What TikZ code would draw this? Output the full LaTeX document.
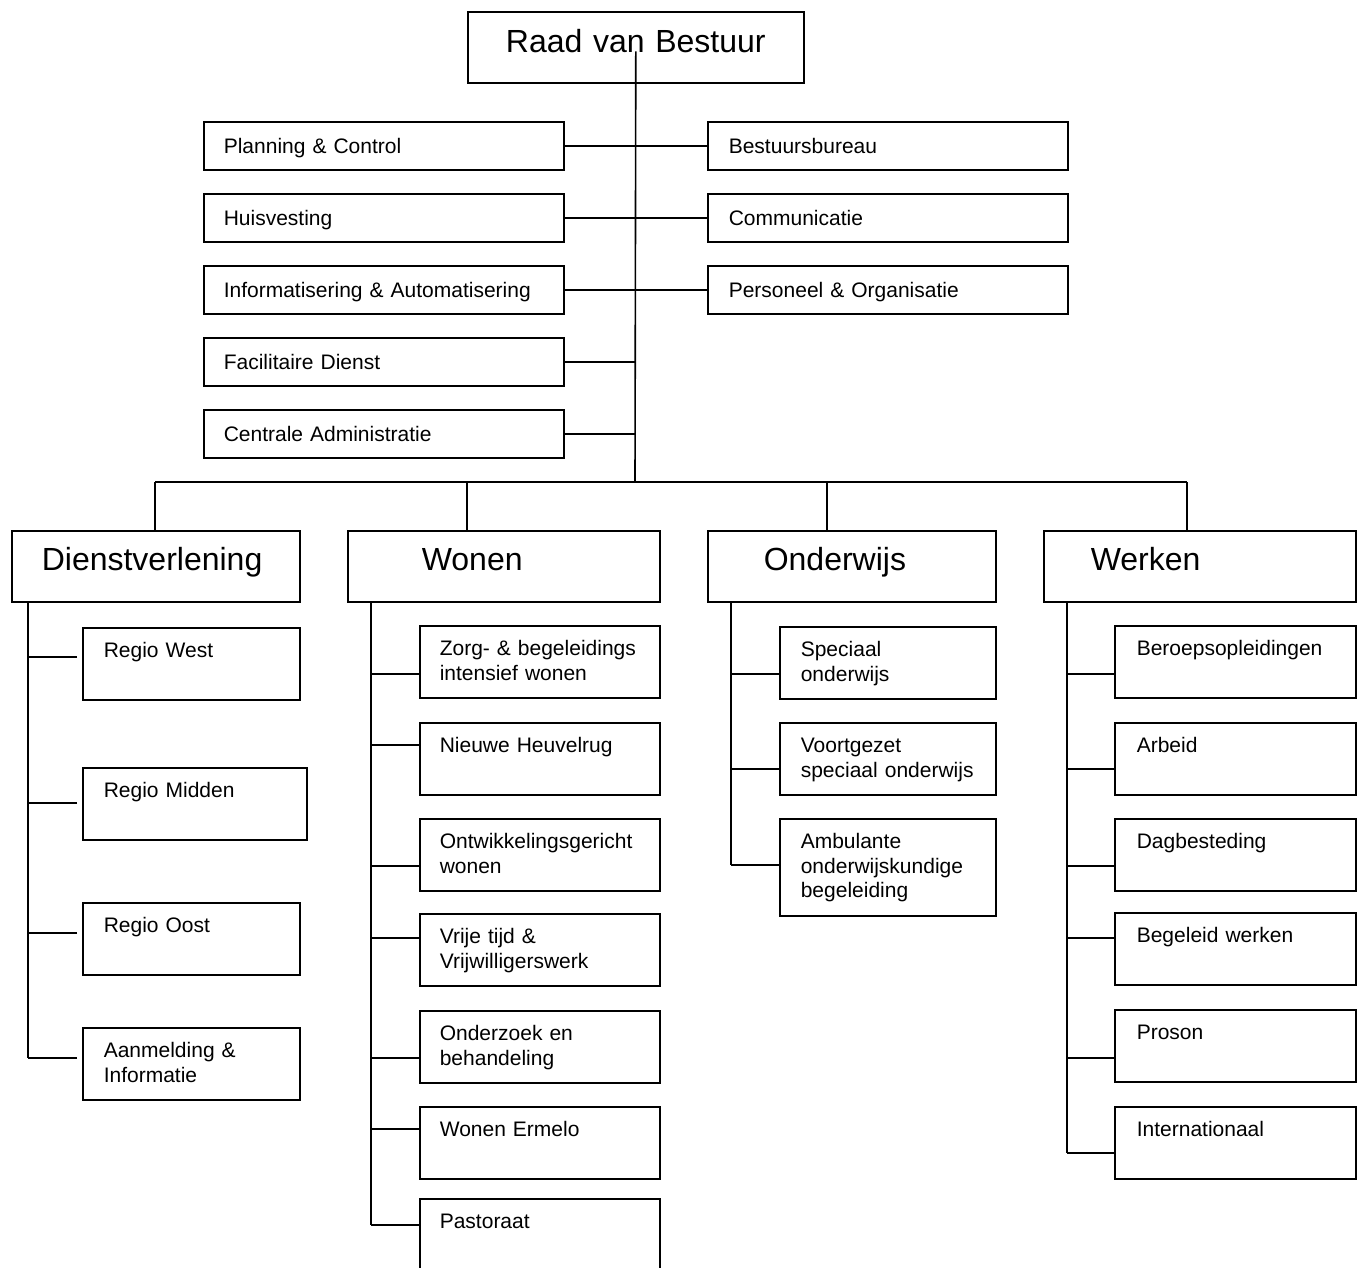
\documentclass[tikz,border=0pt]{standalone}
\usepackage{fontspec}
\setmainfont{Liberation Sans}
\usetikzlibrary{calc,positioning}
\newcommand{\orgsmall}{\fontsize{21}{24.5}\selectfont}
\newcommand{\orglarge}{\fontsize{32}{38}\selectfont}
\tikzset{
  orgbox/.style={draw, rectangle, line width=1.6pt, anchor=north west, inner ysep=0pt, inner xsep=20pt, align=left, font=\orgsmall},
  staffbox/.style={orgbox, text width=320pt, text height=32pt, text depth=16pt},
  subbox/.style={orgbox, text height=30pt, text depth=42pt},
  divbox/.style={orgbox, font=\orglarge, text height=40pt, text depth=31pt},
  link/.style={line width=1.6pt},
}
\begin{document}
\begin{tikzpicture}[x=1pt, y=-1pt]
  \useasboundingbox (0,0) rectangle (1365,1267);
  \fill[white] (0,0) rectangle (1365,1267);
  \clip (0,0) rectangle (1365,1267);

  % top of the organisation
  \node[orgbox, font=\orglarge, align=center, text width=296pt, text height=41pt, text depth=30pt] (rvb) at (467,11) {Raad van Bestuur};
  \coordinate (hub) at (635,482);
  \draw[link] ([yshift=-4pt]rvb.center) -- (hub);

  % staff departments
  \node[staffbox] (pc) at (203,121) {Planning \& Control};
  \node[staffbox] (hv) at (203,193) {Huisvesting};
  \node[staffbox] (ia) at (203,265) {Informatisering \& Automatisering};
  \node[staffbox] (fd) at (203,337) {Facilitaire Dienst};
  \node[staffbox] (ca) at (203,409) {Centrale Administratie};
  \node[staffbox, inner xsep=21pt, text width=318pt] (bb) at (707,121) {Bestuursbureau};
  \node[staffbox, inner xsep=21pt, text width=318pt] (com) at (707,193) {Communicatie};
  \node[staffbox, inner xsep=21pt, text width=318pt] (po) at (707,265) {Personeel \& Organisatie};
  \draw[link] (pc.east) -- (bb.west);
  \draw[link] (hv.east) -- (com.west);
  \draw[link] (ia.east) -- (po.west);
  \draw[link] (fd.east) -- (fd.east -| hub);
  \draw[link] (ca.east) -- (ca.east -| hub);

  % divisions
  \node[divbox, inner xsep=30pt, text width=228pt] (dvl) at (11,530) {Dienstverlening};
  \node[divbox, inner xsep=74pt, text width=164pt] (won) at (347,530) {Wonen};
  \node[divbox, inner xsep=56pt, text width=176pt] (ond) at (707,530) {Onderwijs};
  \node[divbox, inner xsep=47pt, text width=218pt] (wrk) at (1043,530) {Werken};
  \coordinate (dvl-d) at ($(dvl.north west)+(144,0)$);
  \coordinate (won-d) at ($(won.north west)+(120,0)$);
  \coordinate (ond-d) at ($(ond.north west)+(120,0)$);
  \coordinate (wrk-d) at ($(wrk.north west)+(144,0)$);
  \draw[link] (dvl-d |- hub) -- (wrk-d |- hub);
  \foreach \dv in {dvl,won,ond,wrk}
    \draw[link] (\dv-d |- hub) -- (\dv-d);

  % Dienstverlening
  \coordinate (dvl-t) at ($(dvl.south west)+(17,0)$);
  \foreach \nm/\ty/\tw/\dy/\txt in {
    rw/627/175/30/{Regio West},
    rm/767/182/36/{Regio Midden},
    ro/902/175/31/{Regio Oost},
    am/1027/175/31/{Aanmelding \&\\Informatie}}
  {
    \node[subbox, inner xsep=21pt, text width=\tw pt] (\nm) at (82,\ty) {\txt};
    \draw[link] ($(\nm.north west)+(-5,\dy)$) coordinate (\nm-j) -- (\nm-j -| dvl-t);
  }
  \draw[link] (dvl-t) -- (am-j -| dvl-t);

  % Wonen
  \coordinate (won-t) at ($(won.south west)+(24,0)$);
  \foreach \nm/\ty/\dy/\txt in {
    zb/625/49/{Zorg- \& begeleidings\\intensief wonen},
    nh/722/23/{Nieuwe Heuvelrug},
    og/818/48/{Ontwikkelingsgericht\\wonen},
    vt/913/25/{Vrije tijd \&\\Vrijwilligerswerk},
    ob/1010/48/{Onderzoek en\\behandeling},
    we/1106/23/{Wonen Ermelo},
    pa/1198/27/{Pastoraat}}
  {
    \node[subbox, text width=200pt] (\nm) at (419,\ty) {\txt};
    \draw[link] ($(\nm.north west)+(0,\dy)$) coordinate (\nm-j) -- (\nm-j -| won-t);
  }
  \draw[link] (won-t) -- (pa-j -| won-t);

  % Onderwijs
  \coordinate (ond-t) at ($(ond.south west)+(24,0)$);
  \foreach \nm/\ty/\dy/\td/\txt in {
    so/626/48/42/{Speciaal\\onderwijs},
    vs/722/47/42/{Voortgezet\\speciaal onderwijs},
    ab/818/47/67/{Ambulante\\onderwijskundige\\begeleiding}}
  {
    \node[subbox, inner xsep=21pt, text width=174pt, text depth=\td pt] (\nm) at (779,\ty) {\txt};
    \draw[link] ($(\nm.north west)+(0,\dy)$) coordinate (\nm-j) -- (\nm-j -| ond-t);
  }
  \draw[link] (ond-t) -- (ab-j -| ond-t);

  % Werken
  \coordinate (wrk-t) at ($(wrk.south west)+(24,0)$);
  \foreach \nm/\ty/\dy/\txt in {
    bo/625/49/{Beroepsopleidingen},
    ar/722/47/{Arbeid},
    db/818/48/{Dagbesteding},
    bw/912/26/{Begeleid werken},
    pr/1009/49/{Proson},
    in/1106/47/{Internationaal}}
  {
    \node[subbox, inner xsep=22pt, text width=197pt] (\nm) at (1114,\ty) {\txt};
    \draw[link] ($(\nm.north west)+(0,\dy)$) coordinate (\nm-j) -- (\nm-j -| wrk-t);
  }
  \draw[link] (wrk-t) -- (in-j -| wrk-t);
\end{tikzpicture}
\end{document}
